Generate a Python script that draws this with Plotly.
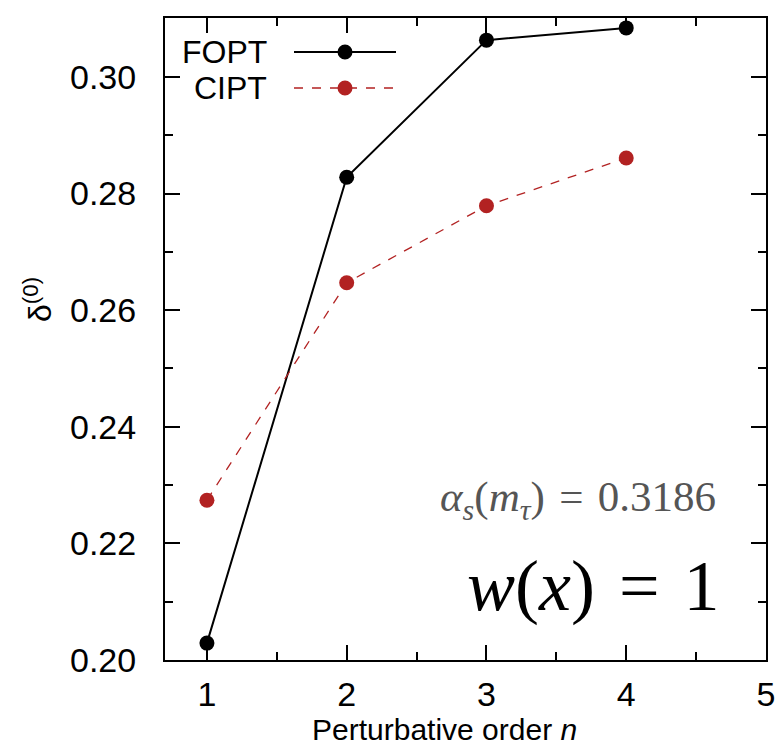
import plotly.graph_objects as go

orders = [1, 2, 3, 4]
fopt = [0.2029, 0.2828, 0.3063, 0.3084]
cipt = [0.2274, 0.2647, 0.2779, 0.2861]
series_names = ["FOPT", "CIPT"]
x_ticks = [1, 2, 3, 4, 5]
y_ticks = [0.20, 0.22, 0.24, 0.26, 0.28, 0.30]
y_tick_labels = ["0.20", "0.22", "0.24", "0.26", "0.28", "0.30"]

BLACK = "#000000"
RED = "#b22222"
FONT = "Liberation Sans, Arial, sans-serif"
SERIF = "Liberation Serif, DejaVu Serif, serif"

fig = go.Figure()
fig.add_trace(go.Scatter(x=orders, y=fopt, mode="lines+markers", name=series_names[0],
                         line=dict(color=BLACK, width=2),
                         marker=dict(color=BLACK, size=15), showlegend=False))
fig.add_trace(go.Scatter(x=orders, y=cipt, mode="lines+markers", name=series_names[1],
                         line=dict(color=RED, width=1.3, dash="dash"),
                         marker=dict(color=RED, size=15), showlegend=False))

W, H = 778, 748
ml, mr, mt, mb = 165, 12, 18, 88
pw, ph = W - ml - mr, H - mt - mb

def px_x(p):
    return (p - ml) / pw

def px_y(p):
    return 1 - (p - mt) / ph

shapes = []
annotations = []
# manual legend (text left, sample right)
for i, (name, col, dash, lw) in enumerate([(series_names[0], BLACK, "solid", 2),
                                            (series_names[1], RED, "dash", 1.3)]):
    yy = px_y(52 + i * 36)
    annotations.append(dict(x=px_x(269), y=yy, xref="paper", yref="paper", text=name,
                            showarrow=False, xanchor="right", yanchor="middle",
                            font=dict(family=FONT, size=32, color=BLACK)))
    shapes.append(dict(type="line", xref="paper", yref="paper", x0=px_x(294), x1=px_x(396),
                       y0=yy, y1=yy, line=dict(color=col, width=lw, dash=dash)))
    shapes.append(dict(type="circle", xref="paper", yref="paper", xsizemode="pixel",
                       ysizemode="pixel", xanchor=px_x(345), yanchor=yy,
                       x0=-7.5, x1=7.5, y0=-7.5, y1=7.5, fillcolor=col, line=dict(width=0)))

annotations.append(dict(x=px_x(718), y=px_y(500), xref="paper", yref="paper",
                        text="<i>α<sub>s</sub></i>(<i>m<sub>τ</sub></i>)&#8196;=&#8196;0.3186",
                        showarrow=False, xanchor="right", yanchor="middle",
                        font=dict(family=SERIF, size=43, color="#555555")))
annotations.append(dict(x=px_x(722), y=px_y(586), xref="paper", yref="paper",
                        text="<i>w</i>(<i>x</i>)&#8196;=&#8196;1",
                        showarrow=False, xanchor="right", yanchor="middle",
                        font=dict(family=SERIF, size=72, color=BLACK)))
annotations.append(dict(x=px_x(444), y=px_y(729), xref="paper", yref="paper",
                        text="Perturbative order <i>n</i>", showarrow=False,
                        xanchor="center", yanchor="middle",
                        font=dict(family=FONT, size=30, color=BLACK)))
annotations.append(dict(x=px_x(38), y=px_y(300), xref="paper", yref="paper",
                        text="δ<sup>(0)</sup>", showarrow=False, textangle=-90,
                        xanchor="center", yanchor="middle",
                        font=dict(family=FONT, size=32, color=BLACK)))

axis_common = dict(showline=True, linecolor=BLACK, linewidth=2, mirror="ticks",
                   ticks="inside", ticklen=15, tickwidth=2, tickcolor=BLACK,
                   showgrid=False, zeroline=False,
                   tickfont=dict(family=FONT, size=34, color=BLACK))

fig.update_xaxes(range=[0.7, 5], tickvals=x_ticks, ticktext=[str(v) for v in x_ticks],
                 ticklabelstandoff=3,
                 minor=dict(tickvals=[1.5, 2.5, 3.5, 4.5], ticklen=8, tickwidth=2,
                            tickcolor=BLACK, ticks="inside"),
                 **axis_common)
fig.update_yaxes(range=[0.2, 0.3101], tickvals=y_ticks, ticktext=y_tick_labels,
                 ticklabelstandoff=20,
                 minor=dict(tickvals=[0.21, 0.23, 0.25, 0.27, 0.29], ticklen=8, tickwidth=2,
                            tickcolor=BLACK, ticks="inside"),
                 **axis_common)

fig.update_layout(width=W, height=H, margin=dict(l=ml, r=mr, t=mt, b=mb, autoexpand=False),
                  plot_bgcolor="white", paper_bgcolor="white",
                  shapes=shapes, annotations=annotations, showlegend=False)
fig.write_html("out.html", config={"displayModeBar": False},
               post_script="document.body.style.margin='0px';")
